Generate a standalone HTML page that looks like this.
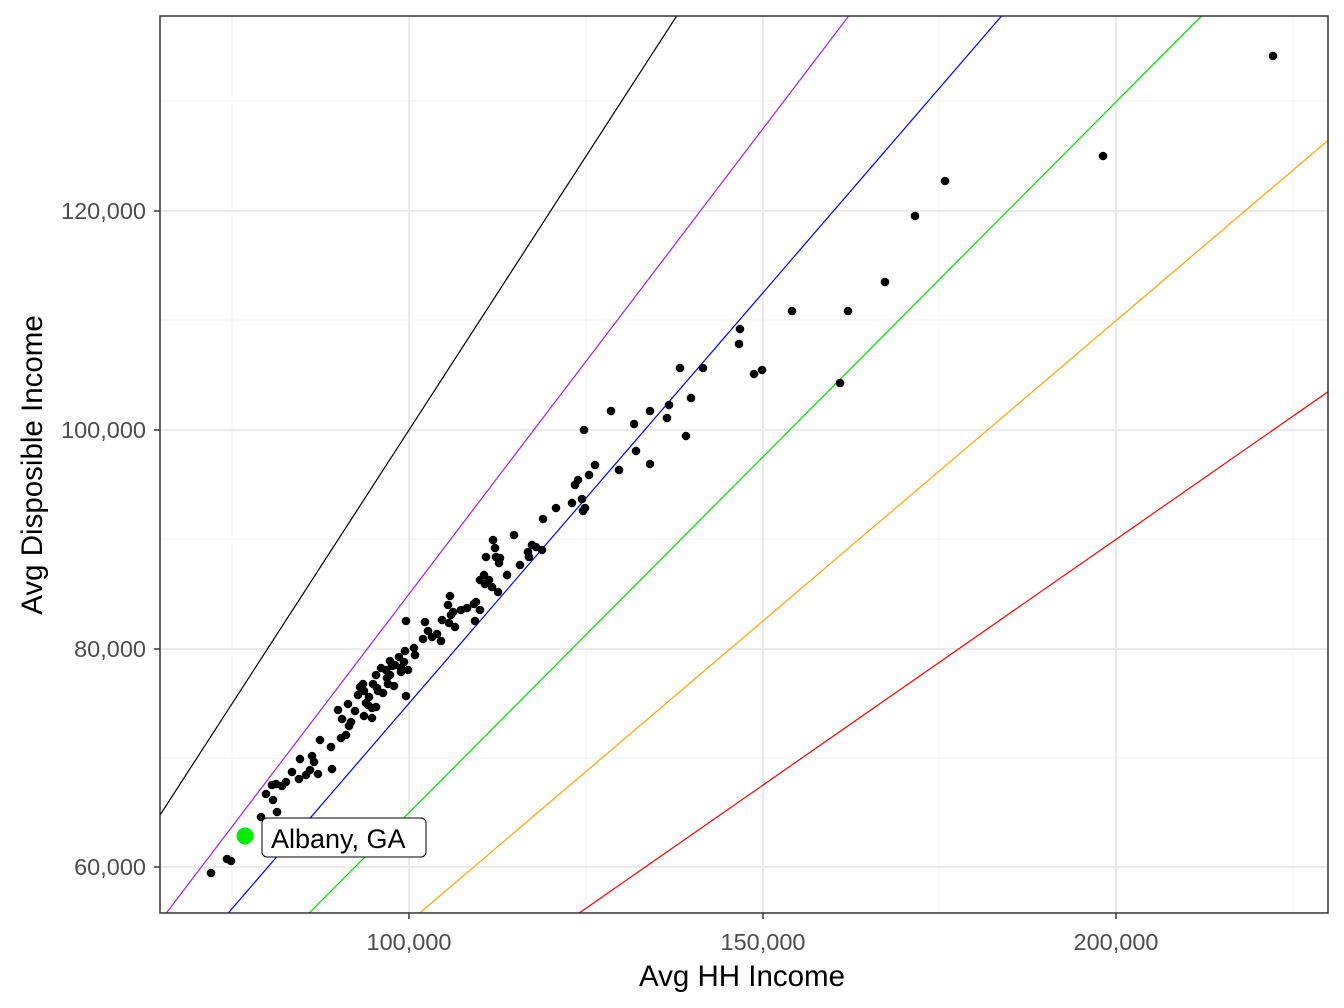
<!DOCTYPE html>
<html><head><meta charset="utf-8"><style>
html,body{margin:0;padding:0;background:#fff;width:1344px;height:1008px;overflow:hidden;}
svg{display:block;font-family:"Liberation Sans",Arial,sans-serif;}
</style></head><body>
<svg width="1344" height="1008" xmlns="http://www.w3.org/2000/svg">
<defs><clipPath id="c"><rect x="160" y="16" width="1168" height="897"/></clipPath></defs>
<rect width="1344" height="1008" fill="#fff"/>
<g stroke="#f3f3f3" stroke-width="1">
<line x1="232" y1="16" x2="232" y2="913"/><line x1="586" y1="16" x2="586" y2="913"/><line x1="939" y1="16" x2="939" y2="913"/><line x1="1293" y1="16" x2="1293" y2="913"/>
<line x1="160" y1="101" x2="1328" y2="101"/><line x1="160" y1="320" x2="1328" y2="320"/><line x1="160" y1="539" x2="1328" y2="539"/><line x1="160" y1="758" x2="1328" y2="758"/>
</g>
<g stroke="#ebebeb" stroke-width="2">
<line x1="409" y1="16" x2="409" y2="913"/><line x1="763" y1="16" x2="763" y2="913"/><line x1="1116" y1="16" x2="1116" y2="913"/>
<line x1="160" y1="211" x2="1328" y2="211"/><line x1="160" y1="430" x2="1328" y2="430"/><line x1="160" y1="649" x2="1328" y2="649"/><line x1="160" y1="867" x2="1328" y2="867"/>
</g>
<g clip-path="url(#c)" stroke-width="1.2" fill="none">
<line x1="126.2" y1="867.4" x2="1398.8" y2="-1100.9" stroke="#000"/>
<line x1="126.2" y1="965.8" x2="1398.8" y2="-707.2" stroke="#a020f0"/>
<line x1="126.2" y1="1031.4" x2="1398.8" y2="-444.8" stroke="#0000ff"/>
<line x1="126.2" y1="1097.0" x2="1398.8" y2="-182.4" stroke="#00dd00"/>
<line x1="126.2" y1="1162.6" x2="1398.8" y2="80.1" stroke="#ffa500"/>
<line x1="126.2" y1="1228.3" x2="1398.8" y2="342.5" stroke="#ff0000"/>
</g>
<g fill="#000">
<circle cx="1273" cy="56" r="4.3"/><circle cx="1103" cy="156" r="4.3"/><circle cx="945" cy="181" r="4.3"/><circle cx="915" cy="216" r="4.3"/><circle cx="885" cy="282" r="4.3"/><circle cx="792" cy="311" r="4.3"/><circle cx="848" cy="311" r="4.3"/><circle cx="740" cy="329" r="4.3"/><circle cx="739" cy="344" r="4.3"/><circle cx="680" cy="368" r="4.3"/><circle cx="703" cy="368" r="4.3"/><circle cx="754" cy="374" r="4.3"/><circle cx="762" cy="370" r="4.3"/><circle cx="840" cy="383" r="4.3"/><circle cx="611" cy="411" r="4.3"/><circle cx="669" cy="405" r="4.3"/><circle cx="691" cy="398" r="4.3"/><circle cx="650" cy="411" r="4.3"/><circle cx="634" cy="424" r="4.3"/><circle cx="667" cy="418" r="4.3"/><circle cx="584" cy="430" r="4.3"/><circle cx="686" cy="436" r="4.3"/><circle cx="636" cy="451" r="4.3"/><circle cx="650" cy="464" r="4.3"/><circle cx="619" cy="470" r="4.3"/><circle cx="595" cy="465" r="4.3"/><circle cx="589" cy="475" r="4.3"/><circle cx="578" cy="480" r="4.3"/><circle cx="575" cy="485" r="4.3"/><circle cx="582" cy="499" r="4.3"/><circle cx="572" cy="503" r="4.3"/><circle cx="585" cy="508" r="4.3"/><circle cx="583" cy="511" r="4.3"/><circle cx="556" cy="508" r="4.3"/><circle cx="543" cy="519" r="4.3"/><circle cx="542" cy="550" r="4.3"/><circle cx="532" cy="545" r="4.3"/><circle cx="536" cy="547" r="4.3"/><circle cx="528" cy="552" r="4.3"/><circle cx="529" cy="557" r="4.3"/><circle cx="514" cy="535" r="4.3"/><circle cx="520" cy="565" r="4.3"/><circle cx="507" cy="575" r="4.3"/><circle cx="500" cy="558" r="4.3"/><circle cx="493" cy="540" r="4.3"/><circle cx="495" cy="548" r="4.3"/><circle cx="496" cy="557" r="4.3"/><circle cx="499" cy="563" r="4.3"/><circle cx="486" cy="557" r="4.3"/><circle cx="484" cy="575" r="4.3"/><circle cx="489" cy="580" r="4.3"/><circle cx="480" cy="580" r="4.3"/><circle cx="485" cy="584" r="4.3"/><circle cx="492" cy="587" r="4.3"/><circle cx="498" cy="592" r="4.3"/><circle cx="476" cy="602" r="4.3"/><circle cx="474" cy="604" r="4.3"/><circle cx="467" cy="608" r="4.3"/><circle cx="461" cy="610" r="4.3"/><circle cx="450" cy="596" r="4.3"/><circle cx="448" cy="605" r="4.3"/><circle cx="451" cy="615" r="4.3"/><circle cx="449" cy="623" r="4.3"/><circle cx="455" cy="627" r="4.3"/><circle cx="453" cy="612" r="4.3"/><circle cx="442" cy="620" r="4.3"/><circle cx="437" cy="634" r="4.3"/><circle cx="441" cy="641" r="4.3"/><circle cx="425" cy="622" r="4.3"/><circle cx="428" cy="631" r="4.3"/><circle cx="432" cy="637" r="4.3"/><circle cx="423" cy="639" r="4.3"/><circle cx="414" cy="648" r="4.3"/><circle cx="415" cy="655" r="4.3"/><circle cx="406" cy="621" r="4.3"/><circle cx="405" cy="651" r="4.3"/><circle cx="399" cy="657" r="4.3"/><circle cx="404" cy="662" r="4.3"/><circle cx="408" cy="670" r="4.3"/><circle cx="401" cy="668" r="4.3"/><circle cx="395" cy="665" r="4.3"/><circle cx="390" cy="661" r="4.3"/><circle cx="392" cy="666" r="4.3"/><circle cx="386" cy="670" r="4.3"/><circle cx="381" cy="668" r="4.3"/><circle cx="376" cy="675" r="4.3"/><circle cx="373" cy="684" r="4.3"/><circle cx="378" cy="691" r="4.3"/><circle cx="383" cy="693" r="4.3"/><circle cx="387" cy="678" r="4.3"/><circle cx="388" cy="684" r="4.3"/><circle cx="369" cy="697" r="4.3"/><circle cx="364" cy="691" r="4.3"/><circle cx="358" cy="695" r="4.3"/><circle cx="360" cy="687" r="4.3"/><circle cx="368" cy="705" r="4.3"/><circle cx="364" cy="716" r="4.3"/><circle cx="355" cy="711" r="4.3"/><circle cx="363" cy="684" r="4.3"/><circle cx="377" cy="688" r="4.3"/><circle cx="351" cy="722" r="4.3"/><circle cx="349" cy="726" r="4.3"/><circle cx="342" cy="719" r="4.3"/><circle cx="346" cy="735" r="4.3"/><circle cx="341" cy="738" r="4.3"/><circle cx="331" cy="747" r="4.3"/><circle cx="320" cy="740" r="4.3"/><circle cx="338" cy="710" r="4.3"/><circle cx="348" cy="704" r="4.3"/><circle cx="366" cy="703" r="4.3"/><circle cx="372" cy="708" r="4.3"/><circle cx="312" cy="756" r="4.3"/><circle cx="314" cy="762" r="4.3"/><circle cx="318" cy="774" r="4.3"/><circle cx="300" cy="759" r="4.3"/><circle cx="306" cy="775" r="4.3"/><circle cx="299" cy="779" r="4.3"/><circle cx="292" cy="772" r="4.3"/><circle cx="286" cy="782" r="4.3"/><circle cx="282" cy="786" r="4.3"/><circle cx="276" cy="784" r="4.3"/><circle cx="266" cy="794" r="4.3"/><circle cx="273" cy="800" r="4.3"/><circle cx="261" cy="817" r="4.3"/><circle cx="272" cy="785" r="4.3"/><circle cx="277" cy="812" r="4.3"/><circle cx="227" cy="859" r="4.3"/><circle cx="231" cy="861" r="4.3"/><circle cx="211" cy="873" r="4.3"/><circle cx="406" cy="696" r="4.3"/><circle cx="401" cy="672" r="4.3"/><circle cx="394" cy="686" r="4.3"/><circle cx="390" cy="675" r="4.3"/><circle cx="376" cy="707" r="4.3"/><circle cx="372" cy="718" r="4.3"/><circle cx="332" cy="769" r="4.3"/><circle cx="310" cy="770" r="4.3"/><circle cx="475" cy="621" r="4.3"/><circle cx="480" cy="610" r="4.3"/>
</g>
<circle cx="245" cy="836" r="8.5" fill="#00ee00"/>
<rect x="262" y="818" width="164" height="39" rx="5" fill="#fff" stroke="#000" stroke-width="1"/>
<text x="271" y="848" font-size="27" fill="#000">Albany, GA</text>
<rect x="160" y="16" width="1168" height="897" fill="none" stroke="#333" stroke-width="1.5"/>
<g stroke="#333" stroke-width="1.5">
<line x1="409" y1="913" x2="409" y2="919"/><line x1="763" y1="913" x2="763" y2="919"/><line x1="1116" y1="913" x2="1116" y2="919"/>
<line x1="154" y1="211" x2="160" y2="211"/><line x1="154" y1="430" x2="160" y2="430"/><line x1="154" y1="649" x2="160" y2="649"/><line x1="154" y1="867" x2="160" y2="867"/>
</g>
<g font-size="23.5" fill="#4d4d4d">
<text x="409" y="950" text-anchor="middle">100,000</text>
<text x="763" y="950" text-anchor="middle">150,000</text>
<text x="1116" y="950" text-anchor="middle">200,000</text>
<text x="146" y="219" text-anchor="end">120,000</text>
<text x="146" y="438" text-anchor="end">100,000</text>
<text x="146" y="657" text-anchor="end">80,000</text>
<text x="146" y="875" text-anchor="end">60,000</text>
</g>
<text x="742" y="986" font-size="29.5" text-anchor="middle" fill="#000">Avg HH Income</text>
<text transform="translate(42,465) rotate(-90)" font-size="29.5" text-anchor="middle" fill="#000">Avg Disposible Income</text>
</svg>
</body></html>
